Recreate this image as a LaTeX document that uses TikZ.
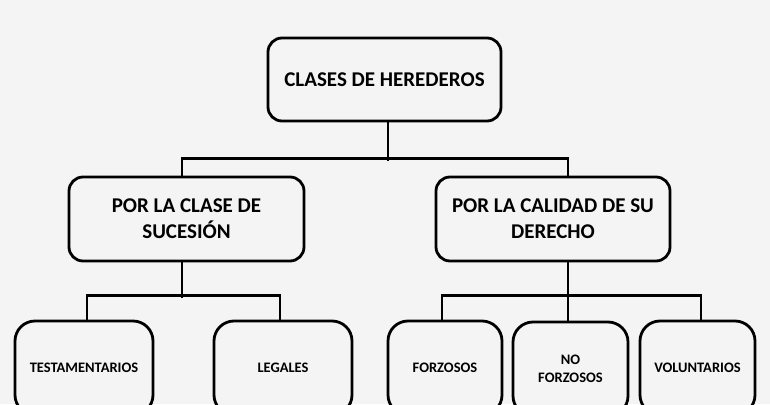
\documentclass[tikz,border=0pt]{standalone}
\usepackage{fontspec}
\setmainfont{Carlito}
\usetikzlibrary{calc}
\definecolor{bg}{HTML}{F4F4F4}
\tikzset{
  box/.style={draw=black, line width=2.8pt, rounded corners=14pt, fill=bg, align=center, inner sep=0pt},
  bigbox/.style={box, font=\fontsize{21}{26}\selectfont\bfseries},
  smallbox/.style={box, rounded corners=20pt, font=\fontsize{14.5}{18}\selectfont\bfseries},
  link/.style={draw=black, line width=2.8pt},
}
\begin{document}
\begin{tikzpicture}[x=1pt,y=-1pt]
\useasboundingbox (0,0) rectangle (770,404);
\clip (0,0) rectangle (770,404);
\fill[bg] (0,0) rectangle (770,404);
\node[bigbox, minimum width=233pt, minimum height=83pt] (top) at (384.5,79.5) {CLASES DE HEREDEROS};
\node[bigbox, minimum width=235pt, minimum height=84pt] (ml) at (186.5,219) {POR LA CLASE DE\\SUCESIÓN};
\node[bigbox, minimum width=234pt, minimum height=84pt] (mr) at (553,219) {POR LA CALIDAD DE SU\\DERECHO};
\node[smallbox, minimum width=138pt, minimum height=94pt] (t1) at (84,368) {TESTAMENTARIOS};
\node[smallbox, minimum width=138pt, minimum height=94pt] (t2) at (283,368) {LEGALES};
\node[smallbox, minimum width=114pt, minimum height=94pt] (b1) at (445,368) {FORZOSOS};
\node[smallbox, minimum width=115pt, minimum height=94pt] (b2) at (570.5,369) {NO\\FORZOSOS};
\node[smallbox, minimum width=115pt, minimum height=94pt] (b3) at (697.5,368) {VOLUNTARIOS};
\coordinate (j1) at ($(top.south)+(3.5,39)$);
\draw[link] ($(top.south)+(3.5,0)$) -- (j1);
\draw[link] ($(ml.north)+(-4.5,0)$) |- ($(mr.north)+(15,-17)$) -- ($(mr.north)+(15,0)$);
\coordinate (j2) at ($(ml.south)+(-4.5,36)$);
\draw[link] ($(ml.south)+(-4.5,0)$) -- (j2);
\draw[link] ($(t1.north)+(3,0)$) |- ($(t2.north)+(-3,-24)$) -- ($(t2.north)+(-3,0)$);
\draw[link] ($(mr.south)+(15,0)$) -- ($(b2.north)+(-2.5,0)$);
\draw[link] ($(b1.north)+(-3,0)$) |- ($(b3.north)+(3.5,-24)$) -- ($(b3.north)+(3.5,0)$);
\end{tikzpicture}
\end{document}
